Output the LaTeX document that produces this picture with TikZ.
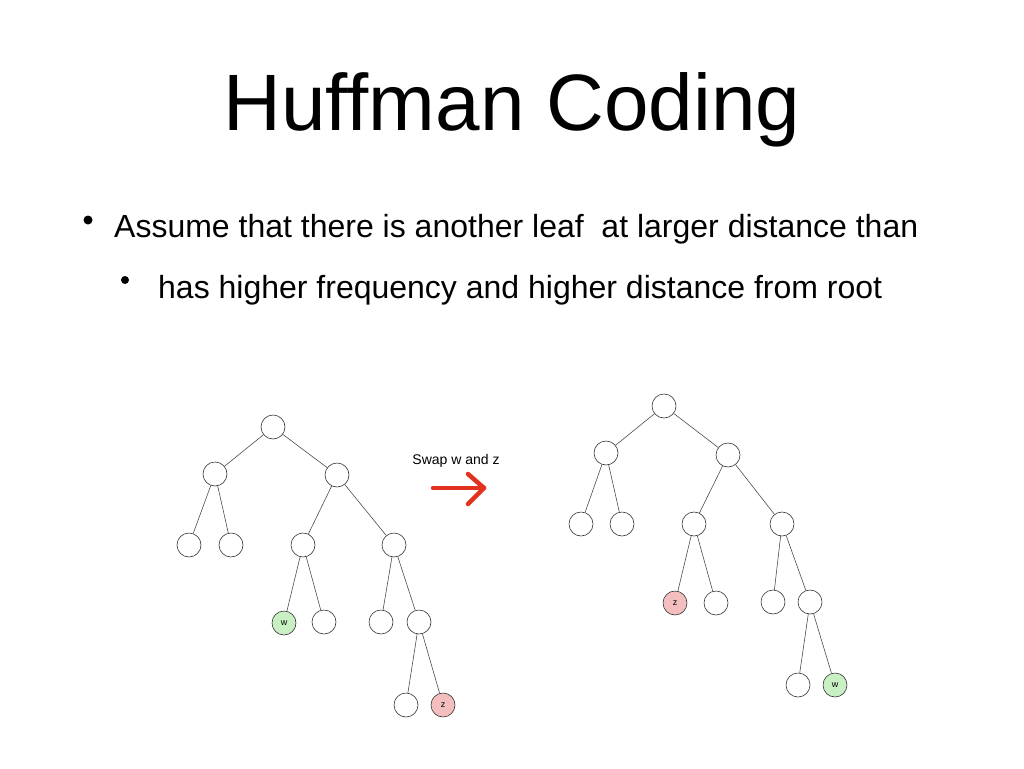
\documentclass[tikz,border=0pt]{standalone}
\usepackage{fontspec}
\setmainfont{Liberation Sans}
\definecolor{lgreen}{RGB}{200,240,195}
\definecolor{lred}{RGB}{245,190,190}
\definecolor{arrred}{RGB}{225,50,30}
\begin{document}
\begin{tikzpicture}[x=1pt,y=-1pt,
  nd/.style={circle,draw=black!80,line width=0.6pt,minimum size=24pt,inner sep=0pt,font=\fontsize{9}{10}\selectfont},
  ed/.style={draw=black!70,line width=0.6pt}]
\useasboundingbox (0,0) rectangle (1024,768);
\node at (512,110) {\fontsize{80}{84}\selectfont Huffman Coding};
\fill (88,220) circle (4.5);
\node[anchor=west,inner sep=0pt] at (114,229) {\fontsize{32}{34}\selectfont Assume that there is another leaf\ \ at larger distance than};
\fill (125,280) circle (4);
\node[anchor=west,inner sep=0pt] at (158,290) {\fontsize{32}{34}\selectfont has higher frequency and higher distance from root};
% left tree
\node[nd] (a) at (273,427) {};
\node[nd] (b) at (215,474) {};
\node[nd] (c) at (337,475) {};
\node[nd] (d) at (189,545) {};
\node[nd] (e) at (231,545) {};
\node[nd] (f) at (303,545) {};
\node[nd] (g) at (394,545) {};
\node[nd,fill=lgreen] (h) at (284,623) {w};
\node[nd] (i) at (324,622) {};
\node[nd] (j) at (381,622) {};
\node[nd] (k) at (419,622) {};
\node[nd] (l) at (406,705) {};
\node[nd,fill=lred] (m) at (443,705) {z};
\foreach \p/\q in {a/b,a/c,b/d,b/e,c/f,c/g,f/h,f/i,g/j,g/k,k/l,k/m} \draw[ed] (\p)--(\q);
% right tree
\node[nd] (A) at (664,406) {};
\node[nd] (B) at (606,453) {};
\node[nd] (C) at (728,455) {};
\node[nd] (D) at (581,524) {};
\node[nd] (E) at (622,524) {};
\node[nd] (F) at (694,524) {};
\node[nd] (G) at (782,524) {};
\node[nd,fill=lred] (H) at (675,603) {z};
\node[nd] (I) at (716,603) {};
\node[nd] (J) at (773,602) {};
\node[nd] (K) at (810,602) {};
\node[nd] (L) at (798,685) {};
\node[nd,fill=lgreen] (M) at (835,685) {w};
\foreach \p/\q in {A/B,A/C,B/D,B/E,C/F,C/G,F/H,F/I,G/J,G/K,K/L,K/M} \draw[ed] (\p)--(\q);
\node (sw) at (456,461) {\fontsize{14}{16}\selectfont Swap w and z};
\coordinate (s0) at (433,488);
\coordinate (s1) at (484,488);
\draw[arrred,line width=4.5pt,line cap=round] (s0)--(s1);
\draw[arrred,line width=4.5pt,line cap=round,line join=round] (468,474)--(s1)--(468,504);
\end{tikzpicture}
\end{document}
